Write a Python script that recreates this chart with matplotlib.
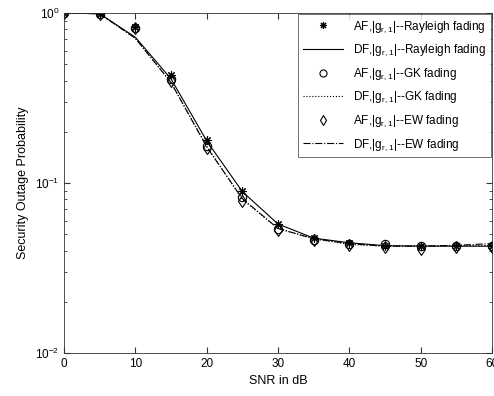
import matplotlib
matplotlib.use('Agg')
import matplotlib.pyplot as plt
import numpy as np

plt.rcParams['font.family'] = ['Liberation Sans', 'DejaVu Sans']
plt.rcParams['mathtext.default'] = 'regular'

# SNR in dB
snr = [0, 5, 10, 15, 20, 25, 30, 35, 40, 45, 50, 55, 60]

# Rayleigh fading
af_ray = [1.0, 0.99, 0.827, 0.432, 0.179, 0.0895, 0.0574, 0.0474, 0.0443, 0.0428, 0.0428, 0.0428, 0.0428]
df_ray = [1.0, 0.99, 0.72, 0.41, 0.177, 0.089, 0.0574, 0.0474, 0.0445, 0.0428, 0.0425, 0.0425, 0.0425]
# GK fading
af_gk = [1.0, 0.99, 0.82, 0.41, 0.165, 0.083, 0.0536, 0.046, 0.0437, 0.0437, 0.0428, 0.0425, 0.0428]
df_gk = [1.0, 0.99, 0.71, 0.39, 0.165, 0.080, 0.054, 0.047, 0.0435, 0.0425, 0.0428, 0.0428, 0.0428]
# EW fading
af_ew = [1.0, 0.99, 0.82, 0.40, 0.16, 0.078, 0.053, 0.046, 0.043, 0.042, 0.041, 0.042, 0.042]
df_ew = [1.0, 0.99, 0.71, 0.39, 0.163, 0.081, 0.054, 0.047, 0.044, 0.0425, 0.0425, 0.043, 0.044]

fig = plt.figure(figsize=(4.94, 3.96), dpi=100)
ax = fig.add_axes([64/494, 43/396, 428/494, 340/396])

mk = dict(color='k', mfc='none', mec='k', ms=6, mew=0.8, ls='none')
ax.semilogy(snr, af_ray, marker=(8, 2, 0), label=r'AF,|g$_{r,1}$|--Rayleigh fading', **mk)
ax.semilogy(snr, df_ray, 'k-', lw=0.8, label=r'DF,|g$_{r,1}$|--Rayleigh fading')
ax.semilogy(snr, af_gk, marker='o', label=r'AF,|g$_{r,1}$|--GK fading', **mk)
ax.semilogy(snr, df_gk, 'k:', lw=0.8, label=r'DF,|g$_{r,1}$|--GK fading')
ax.semilogy(snr, af_ew, marker='d', label=r'AF,|g$_{r,1}$|--EW fading', **mk)
ax.semilogy(snr, df_ew, 'k-.', lw=0.8, label=r'DF,|g$_{r,1}$|--EW fading')

ax.set_xlim(0, 60)
ax.set_ylim(1e-2, 1)
ax.set_xticks(np.arange(0, 61, 10))
ax.tick_params(which='both', direction='in', top=True, right=True, labelsize=8.5, color='#333333')
ax.tick_params(which='major', length=4)
ax.tick_params(which='minor', length=2)
for s in ax.spines.values():
    s.set_linewidth(0.6)
    s.set_color('#333333')

ax.set_xlabel('SNR in dB', fontsize=9)
ax.set_ylabel('Security Outage Probability', fontsize=9)

leg = ax.legend(loc='upper right', fontsize=8.5, frameon=True, fancybox=False,
                edgecolor='#333333', borderaxespad=0.1, handlelength=3.4,
                labelspacing=0.68, markerscale=0.85)
leg.get_frame().set_linewidth(0.6)

fig.savefig('out.png', dpi=100)
